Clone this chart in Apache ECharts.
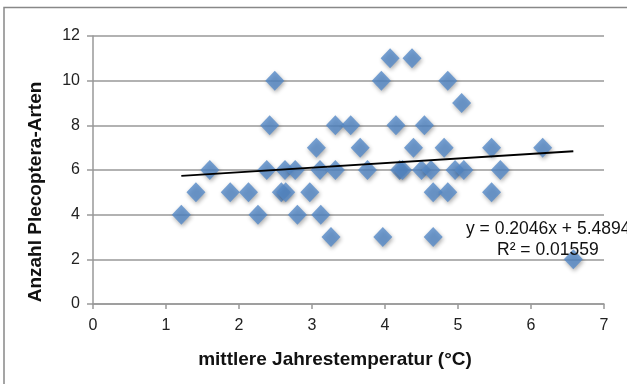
<!DOCTYPE html>
<html>
<head>
<meta charset="utf-8">
<script src="https://cdn.jsdelivr.net/npm/echarts@6/dist/echarts.min.js"></script>
<style>
  html, body { margin: 0; padding: 0; background: #fff; }
  #chart { width: 627px; height: 384px; }
</style>
</head>
<body>
<div id="chart"></div>
<script>
// Temperatur (°C) und Anzahl Arten
const tempX = [
  4.07, 4.37,
  2.49, 3.95, 4.86,
  5.05,
  2.42, 3.32, 3.53, 4.15, 4.54,
  3.06, 3.66, 4.39, 4.81, 5.46, 6.16,
  1.60, 2.38, 2.63, 2.77, 3.11, 3.32, 3.76, 4.20, 4.24, 4.50, 4.63, 4.96, 5.08, 5.58,
  1.41, 1.88, 2.13, 2.58, 2.64, 2.97, 4.66, 4.86, 5.46,
  1.21, 2.26, 2.80, 3.12,
  3.26, 3.97, 4.66,
  6.58
];
const arten = [
  11, 11,
  10, 10, 10,
  9,
  8, 8, 8, 8, 8,
  7, 7, 7, 7, 7, 7,
  6, 6, 6, 6, 6, 6, 6, 6, 6, 6, 6, 6, 6, 6,
  5, 5, 5, 5, 5, 5, 5, 5, 5,
  4, 4, 4, 4,
  3, 3, 3,
  2
];
// Trendlinie (Endpunkte)
const trendX = [1.21, 6.58];
const trendY = [5.737, 6.836];
const eqText = 'y = 0.2046x + 5.4894';
const r2Text = 'R² = 0.01559';

const points = tempX.map((x, i) => [x, arten[i]]);
const trend = trendX.map((x, i) => [x, trendY[i]]);

const chart = echarts.init(document.getElementById('chart'));
const font = 'Liberation Sans, Arial, sans-serif';

const option = {
  animation: false,
  grid: { left: 93, right: 23, top: 36, bottom: 80 },
  xAxis: {
    type: 'value',
    min: 0, max: 7, interval: 1,
    axisLine: { show: true, lineStyle: { color: '#999', width: 1.5 } },
    axisTick: { show: true, length: 5, lineStyle: { color: '#999', width: 1.5 } },
    axisLabel: { color: '#222', fontSize: 16, fontFamily: font, margin: 14 },
    splitLine: { show: false }
  },
  yAxis: {
    type: 'value',
    min: 0, max: 12, interval: 2,
    axisLine: { show: true, lineStyle: { color: '#999', width: 1.5 } },
    axisTick: { show: true, length: 6, lineStyle: { color: '#999', width: 1.5 } },
    axisLabel: { color: '#222', fontSize: 16, fontFamily: font, margin: 13 },
    splitLine: { show: true, lineStyle: { color: '#999', width: 1.5 } }
  },
  graphic: [
    {
      type: 'rect', silent: true, z: -1,
      shape: { x: 4, y: 7.5, width: 800, height: 600 },
      style: { fill: 'none', stroke: '#888', lineWidth: 1.5 }
    },
    {
      type: 'text', x: 36, y: 192, rotation: Math.PI / 2,
      style: {
        text: 'Anzahl Plecoptera-Arten', fill: '#111',
        font: 'bold 19px ' + font, align: 'center', verticalAlign: 'middle'
      }
    },
    {
      type: 'text', x: 335, y: 360,
      style: {
        text: 'mittlere Jahrestemperatur (°C)', fill: '#111',
        font: 'bold 19px ' + font, align: 'center', verticalAlign: 'middle'
      }
    },
    {
      type: 'text', x: 466, y: 229, z: 10,
      style: { text: eqText, fill: '#111', font: '17.5px ' + font, verticalAlign: 'middle' }
    },
    {
      type: 'text', x: 497, y: 250, z: 10,
      style: { text: r2Text, fill: '#111', font: '17.5px ' + font, verticalAlign: 'middle' }
    }
  ],
  series: [
    {
      type: 'scatter',
      data: points,
      symbol: 'diamond',
      symbolSize: [19, 20],
      itemStyle: {
        color: '#5589C8',
        shadowColor: 'rgba(0,0,0,0.4)',
        shadowBlur: 4,
        shadowOffsetX: 1,
        shadowOffsetY: 2
      },
      z: 2
    },
    {
      type: 'line',
      data: trend,
      symbol: 'none',
      lineStyle: { color: '#000', width: 2 },
      z: 3
    }
  ]
};

chart.setOption(option);
</script>
</body>
</html>
